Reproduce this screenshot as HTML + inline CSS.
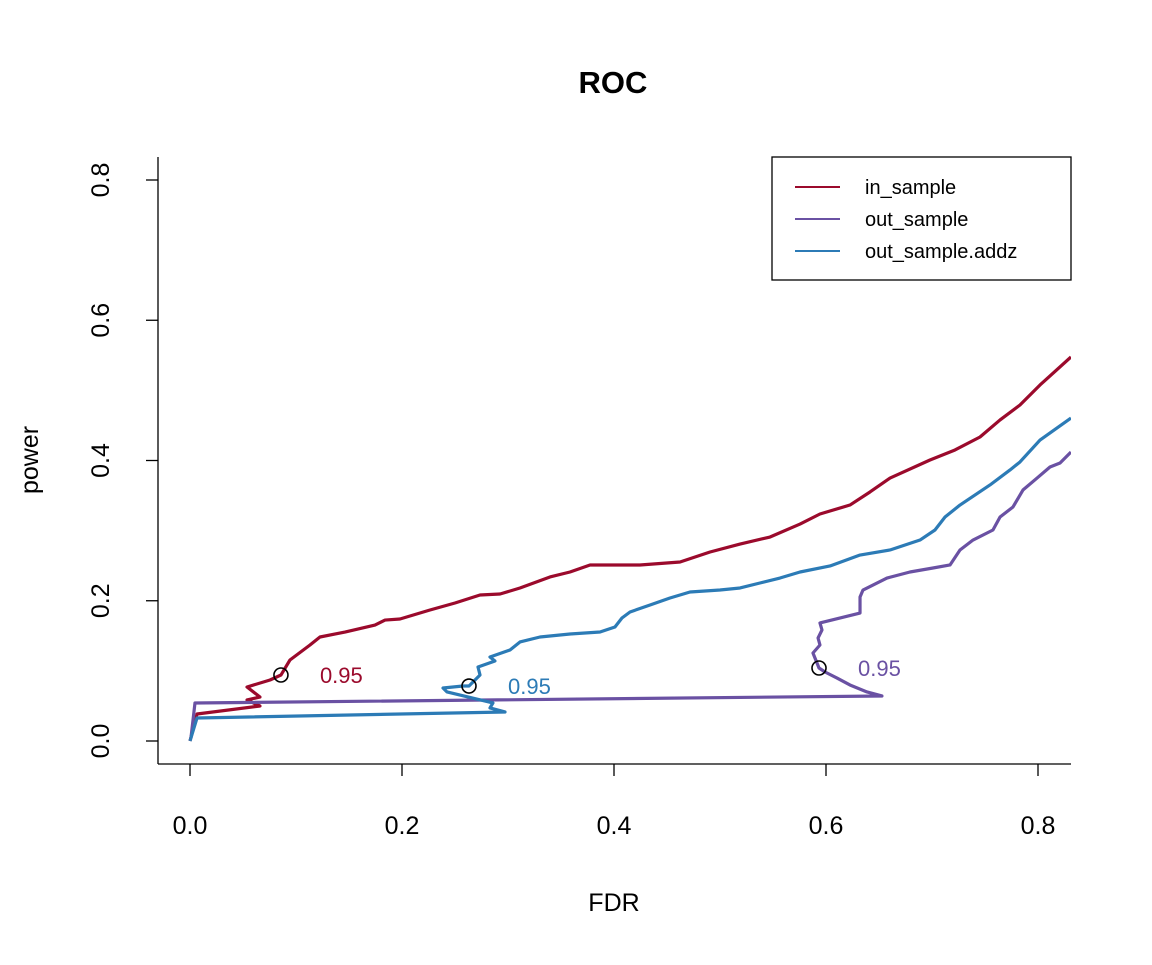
<!DOCTYPE html>
<html><head><meta charset="utf-8"><style>
body{margin:0;background:#fff}
svg text{font-family:"Liberation Sans",sans-serif}
</style></head><body>
<svg id="chart" width="1152" height="960" xmlns="http://www.w3.org/2000/svg">
<rect width="1152" height="960" fill="#fff"/>
<defs><clipPath id="clip"><rect x="158" y="157" width="913" height="607"/></clipPath></defs>
<text x="613" y="93" font-size="31" font-weight="bold" text-anchor="middle">ROC</text>
<g id="axes"></g>
<g id="series" clip-path="url(#clip)"></g>
<g id="marks"></g>
<g>
<rect x="772" y="157" width="299" height="123" fill="#fff" stroke="#000" stroke-width="1.3"/>
<line x1="795" y1="187" x2="840" y2="187" stroke="#9b0a2c" stroke-width="2"/>
<text x="865" y="194" font-size="20">in_sample</text>
<line x1="795" y1="219" x2="840" y2="219" stroke="#6a51a3" stroke-width="2"/>
<text x="865" y="226" font-size="20">out_sample</text>
<line x1="795" y1="251" x2="840" y2="251" stroke="#2c7bb6" stroke-width="2"/>
<text x="865" y="258" font-size="20">out_sample.addz</text>
</g>
</svg>
<script>
const xTicks=[0,0.2,0.4,0.6,0.8];
const xTickLabels=["0.0","0.2","0.4","0.6","0.8"];
const yTicks=[0,0.2,0.4,0.6,0.8];
const yTickLabels=["0.0","0.2","0.4","0.6","0.8"];
const inFdr=[0,.0066,.066,.0538,.066,.0538,.0755,.0858,.0943,.1132,.1226,.1462,.1745,.184,.1981,.2264,.25,.2736,.2925,.3113,.3396,.3585,.3774,.4245,.4623,.4906,.5189,.5472,.5755,.5943,.6226,.6415,.6604,.6981,.7217,.7453,.7642,.783,.8019,.8311];
const inPower=[0,.0385,.0499,.0585,.0627,.077,.087,.0941,.1155,.1369,.1483,.1554,.1654,.1725,.174,.1868,.1968,.2082,.2096,.2182,.2339,.241,.251,.251,.2553,.2695,.2809,.2909,.3094,.3237,.3365,.3551,.375,.4007,.415,.4335,.4578,.4791,.5077,.5476];
const outFdr=[.0009,.0047,.6528,.6387,.6226,.6104,.5991,.5934,.5877,.5943,.5925,.5962,.5943,.6321,.6321,.6349,.6575,.6792,.7009,.717,.7264,.7387,.7575,.7642,.7764,.7858,.7991,.8113,.8208,.8302,.8311];
const outPower=[.0043,.0542,.0642,.0699,.0799,.0898,.0984,.1041,.1255,.1369,.1469,.1583,.1683,.1825,.2053,.2153,.2324,.241,.2467,.251,.2724,.2866,.3009,.3194,.3337,.3579,.375,.3907,.3964,.4107,.412];
const addzFdr=[0,.0066,.2972,.283,.2858,.2425,.2387,.2575,.2632,.2736,.2717,.2877,.283,.3019,.3113,.3302,.3585,.3868,.4009,.4075,.4151,.434,.4528,.4717,.5,.5189,.5377,.5566,.5755,.6038,.6321,.6604,.6887,.7028,.7123,.7264,.7547,.7736,.783,.8019,.8311];
const addzPower=[0,.0328,.0414,.0471,.0542,.0699,.0756,.0784,.0784,.0941,.1055,.1141,.1198,.1298,.1412,.1483,.1526,.1554,.1626,.1754,.184,.1939,.2039,.2125,.2153,.2182,.2253,.2324,.241,.2496,.2652,.2724,.2866,.3009,.3194,.3365,.3651,.3865,.3979,.4292,.4606];
const cutFdr=[.0858,.2632,.5934];
const cutPower=[.0941,.0784,.1041];
const cutLabels=["0.95","0.95","0.95"];
const NS="http://www.w3.org/2000/svg";
const X=v=>190+v*1060, Y=v=>741-v*701.25;
function mk(tag,attrs,parent,txt){const e=document.createElementNS(NS,tag);for(const k in attrs)e.setAttribute(k,attrs[k]);if(txt!==undefined)e.textContent=txt;parent.appendChild(e);return e;}
const axes=document.getElementById('axes');
let e=mk('line',{x1:158,y1:764,x2:1071,y2:764,stroke:'#000','stroke-width':1.3},axes);


e=mk('line',{x1:158,y1:157,x2:158,y2:764,stroke:'#000','stroke-width':1.3},axes);


xTicks.forEach((t,i)=>{mk('line',{x1:X(t),y1:764,x2:X(t),y2:776,stroke:'#000','stroke-width':1.3},axes);
 const l=mk('text',{x:X(t),y:834,'font-size':25,'text-anchor':'middle'},axes,xTickLabels[i]);
 
 });
yTicks.forEach((t,i)=>{mk('line',{x1:146,y1:Y(t),x2:158,y2:Y(t),stroke:'#000','stroke-width':1.3},axes);
 const l=mk('text',{x:0,y:0,'font-size':25,'text-anchor':'middle',transform:`translate(109,${Y(t)}) rotate(-90)`},axes,yTickLabels[i]);
 
 });
e=mk('text',{x:614,y:911,'font-size':25,'text-anchor':'middle'},axes,'FDR');


e=mk('text',{x:0,y:0,'font-size':25,'text-anchor':'middle',transform:'translate(38,460) rotate(-90)'},axes,'power');


const series=document.getElementById('series');
function line(xs,ys,col,name){const p=mk('polyline',{points:xs.map((x,i)=>X(x)+','+Y(ys[i])).join(' '),fill:'none',stroke:col,'stroke-width':3.2,'stroke-linejoin':'round'},series);
 
 }
line(inFdr,inPower,'#9b0a2c','in-sample-line');
line(outFdr,outPower,'#6a51a3','out-sample-line');
line(addzFdr,addzPower,'#2c7bb6','out-sample-addz-line');
const marks=document.getElementById('marks');
const cols=['#9b0a2c','#2c7bb6','#6a51a3'];
cutFdr.forEach((f,i)=>{const c=mk('circle',{cx:X(f),cy:Y(cutPower[i]),r:7,fill:'none',stroke:'#000','stroke-width':1.6},marks);
 
 
 const t=mk('text',{x:X(f)+39,y:Y(cutPower[i])+8,'font-size':22,fill:cols[i]},marks,cutLabels[i]);
 
 });
</script>
</body></html>
